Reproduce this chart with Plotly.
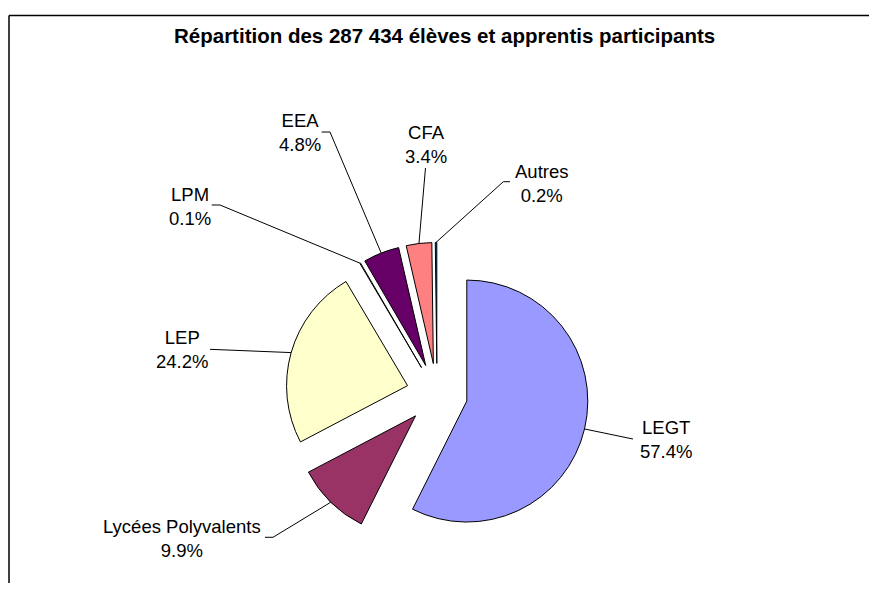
import math
import plotly.graph_objects as go

# data (percent of 287 434 pupils)
categories = ["LEGT", "Lycées Polyvalents", "LEP", "LPM", "EEA", "CFA", "Autres"]
shares = [57.4, 9.9, 24.2, 0.1, 4.8, 3.4, 0.2]
colors = ["#9999FF", "#993366", "#FFFFCC", "#CCFFFF", "#660066", "#FF8080", "#0066CC"]

title = "Répartition des 287 434 élèves et apprentis participants"

# the page body has an 8px margin, so the figure is a bit smaller than the window
OFF = 8
W, H = 877 - 2 * OFF, 591 - 2 * OFF
FONT = "Liberation Sans, Arial, sans-serif"

# pie geometry in window pixels
cx, cy = 437, 394
radius = 121
pull = 0.253

# label block centres and the leader line end near each label (window pixels)
label_center = [(666, 439), (182, 538.7), (182, 349), (190, 206),
                (300, 132), (426, 144), (541.5, 183)]
leader_end = [[(633, 439)],
              [(273, 537.3), (265, 537.3)],
              [(210, 349.3)],
              [(220, 205), (211.7, 205)],
              [(330, 132), (321.7, 132)],
              [(425.5, 168)],
              [(503.3, 181.7), (510, 181.7)]]


def px(x, y):
    return (x - OFF) / W, 1 - (y - OFF) / H


half = radius * (1 + pull)
x0, y1 = px(cx - half, cy - half)
x1, y0 = px(cx + half, cy + half)
fig = go.Figure(go.Pie(
    labels=categories,
    values=shares,
    sort=False,
    direction="clockwise",
    rotation=0,
    pull=[pull] * len(shares),
    marker=dict(colors=colors, line=dict(color="black", width=1)),
    textinfo="none",
    hoverinfo="label+percent",
    showlegend=False,
    domain=dict(x=[x0, x1], y=[y0, y1]),
))

shapes = []
total = sum(shares)
cum = 0
for v, ends in zip(shares, leader_end):
    mid = (cum + v / 2) / total * 2 * math.pi
    cum += v
    sx = cx + half * math.sin(mid)
    sy = cy - half * math.cos(mid)
    pts = [(sx, sy)] + ends
    path = "M " + " L ".join("%.4f,%.4f" % px(x, y) for x, y in pts)
    shapes.append(dict(type="path", path=path, xref="paper", yref="paper",
                       line=dict(color="black", width=1)))

# chart frame (only top and left edges visible)
fx, fy = px(9, 15.5)
shapes.append(dict(type="line", xref="paper", yref="paper",
                   x0=fx, y0=fy, x1=1.02, y1=fy,
                   line=dict(color="black", width=1.5)))
shapes.append(dict(type="line", xref="paper", yref="paper",
                   x0=fx, y0=fy, x1=fx, y1=-0.02,
                   line=dict(color="black", width=1.5)))

annotations = []
for name, v, (lx, ly) in zip(categories, shares, label_center):
    x, y = px(lx, ly)
    annotations.append(dict(text=f"{name}<br>{v:.1f}%", x=x, y=y,
                            xref="paper", yref="paper", showarrow=False,
                            xanchor="center", yanchor="middle", align="center",
                            font=dict(family=FONT, size=18.5, color="black")))

tx, ty = px(444.5, 35.5)
annotations.append(dict(text=f"<b>{title}</b>", x=tx, y=ty, xref="paper", yref="paper",
                        showarrow=False, xanchor="center", yanchor="middle",
                        font=dict(family=FONT, size=20.5, color="black")))

fig.update_layout(
    width=W, height=H,
    margin=dict(l=0, r=0, t=0, b=0),
    paper_bgcolor="white",
    plot_bgcolor="white",
    shapes=shapes,
    annotations=annotations,
)

fig.write_html("out.html", config={"displayModeBar": False})
